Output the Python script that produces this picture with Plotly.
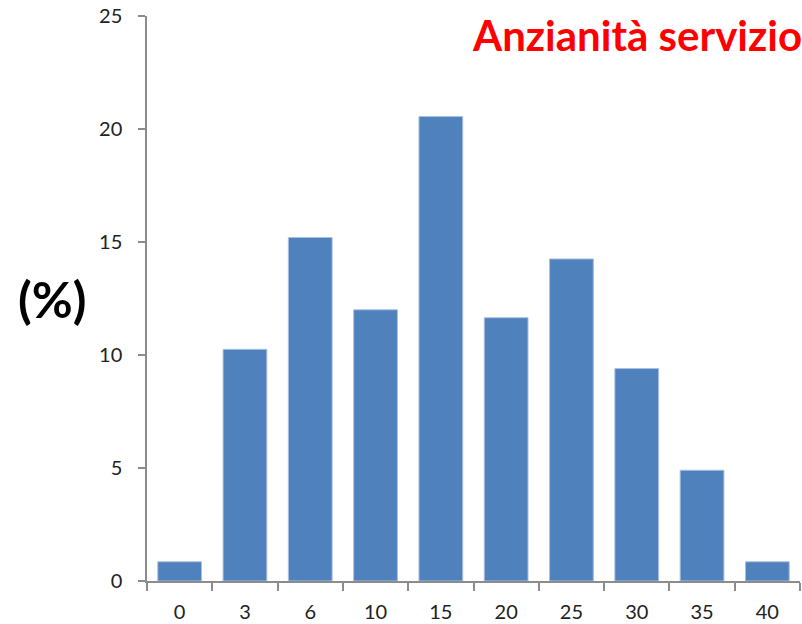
import plotly.graph_objects as go

categories = ["0", "3", "6", "10", "15", "20", "25", "30", "35", "40"]
percent = [0.85, 10.25, 15.2, 12.0, 20.55, 11.65, 14.25, 9.4, 4.9, 0.85]
y_ticks = [0, 5, 10, 15, 20, 25]
title_text = "Anzianità servizio"
y_label = "(%)"

W, H = 802, 624
L, R, T, B = 147, 2, 16, 43

fig = go.Figure(go.Bar(
    x=categories, y=percent,
    marker=dict(color="#4F81BD", line=dict(color="#A9C0E0", width=1)),
    hoverinfo="skip",
))

font_family = "Lato, 'Open Sans', sans-serif"
pw = W - L - R
ph = H - T - B

fig.update_layout(
    width=W, height=H,
    margin=dict(l=L, r=R, t=T, b=B, pad=0, autoexpand=False),
    paper_bgcolor="white", plot_bgcolor="white",
    bargap=0.33,
    showlegend=False,
    font=dict(family=font_family, color="#222222", size=20),
    xaxis=dict(
        type="category", showgrid=False, showline=True, linecolor="#8C8C8C", linewidth=1.5,
        ticks="outside", tickson="boundaries", ticklen=8, tickcolor="#8C8C8C", tickwidth=1.5,
        tickfont=dict(size=20, family=font_family, color="#222222"),
        range=[-0.5, 9.5], fixedrange=True, ticklabelstandoff=12,
        ticklabeloverflow="allow", automargin=False,
    ),
    yaxis=dict(
        range=[0, 25], tickvals=y_ticks, showgrid=False, zeroline=False,
        showline=True, linecolor="#8C8C8C", linewidth=1.5,
        ticks="outside", ticklen=7, tickcolor="#8C8C8C", tickwidth=1.5,
        tickfont=dict(size=20, family=font_family, color="#222222"),
        ticklabelstandoff=12, ticklabeloverflow="allow", automargin=False,
        fixedrange=True,
    ),
    annotations=[
        dict(text=f"<b>{title_text}</b>", xref="paper", yref="paper",
             x=(470 - L) / pw, y=1 + (T - 8) / ph,
             xanchor="left", yanchor="top", showarrow=False,
             font=dict(size=42, color="#FF0000", family=font_family)),
        dict(text=f"<b>{y_label}</b>", xref="paper", yref="paper",
             x=-(L - 52) / pw, y=(H - B - 299) / ph,
             xanchor="center", yanchor="middle", showarrow=False,
             font=dict(size=50, color="#000000", family=font_family)),
    ],
)

fig.write_html(
    "out.html",
    config={"displayModeBar": False},
    post_script="document.body.style.margin='0';document.body.style.overflow='hidden';",
)
